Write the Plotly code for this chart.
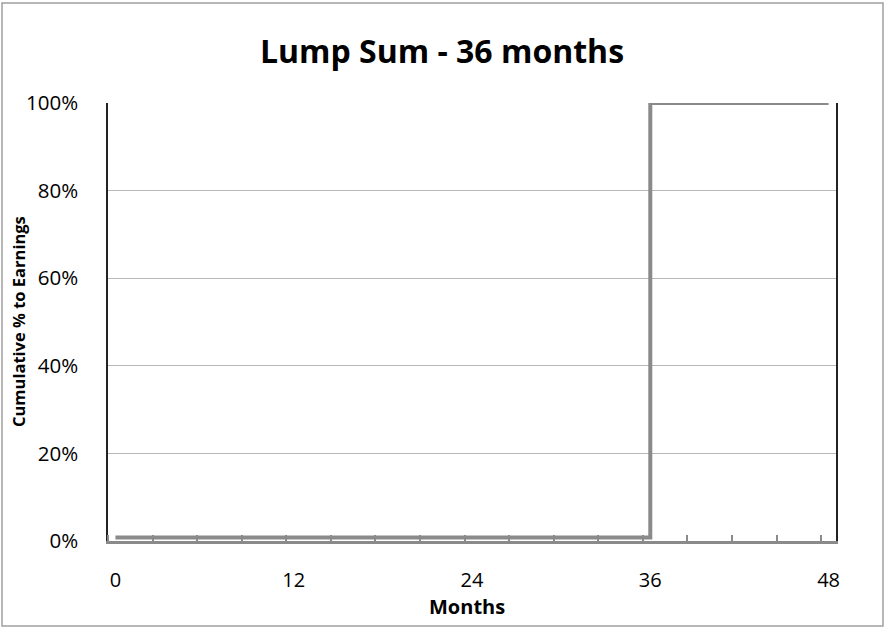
import plotly.graph_objects as go

# Monthly cumulative share of earnings for a lump-sum payout at month 36
months = list(range(0, 49))
cumulative_pct = [0.008] * 36 + [1.0] * 13

x_tick_vals = [0, 12, 24, 36, 48]
x_tick_text = ["0", "12", "24", "36", "48"]
y_tick_vals = [0, 0.2, 0.4, 0.6, 0.8, 1.0]
y_tick_text = ["0%", "20%", "40%", "60%", "80%", "100%"]

W, H = 885, 629
L, R, T, B = 108, 49, 103, 88
pw, ph = W - L - R, H - T - B

font_family = "'Open Sans', Lato, sans-serif"

fig = go.Figure()
fig.add_trace(go.Scatter(
    x=months, y=cumulative_pct, mode="lines", line_shape="hv",
    line=dict(color="#8a8a8a", width=4), showlegend=False, hoverinfo="skip",
))

fig.update_layout(
    width=W, height=H,
    margin=dict(l=L, r=R, t=T, b=B, autoexpand=False),
    paper_bgcolor="white", plot_bgcolor="white",
    title=dict(text="<b>Lump Sum - 36 months</b>", x=(246 + 638) / 2 / W, xanchor="center",
               y=1 - 52 / H, yanchor="middle",
               font=dict(family=font_family, size=32, color="black")),
    font=dict(family=font_family, color="black"),
    xaxis=dict(
        # category-style axis: each month occupies one slot, labels at slot centres
        range=[-0.5, 48.5], tickmode="array", tickvals=x_tick_vals, ticktext=x_tick_text,
        ticks="", automargin=False,
        minor=dict(dtick=3, tick0=-0.5, ticks="inside", ticklen=6, tickcolor="#8a8a8a", tickwidth=2),
        showgrid=False, zeroline=False,
        showline=True, linecolor="#8a8a8a", linewidth=3, mirror=False,
        tickfont=dict(size=20), ticklabelstandoff=19,
    ),
    yaxis=dict(
        range=[0, 1.0], tickmode="array", tickvals=y_tick_vals, ticktext=y_tick_text,
        ticks="", automargin=False,
        showgrid=True, gridcolor="#b8b8b8", gridwidth=1, zeroline=False,
        showline=True, linecolor="#222222", linewidth=1.5, mirror=True,
        tickfont=dict(size=20.5), ticklabelstandoff=24,
    ),
    annotations=[
        dict(text="<b>Months</b>", xref="paper", yref="paper",
             x=(467 - L) / pw, y=(H - B - 606) / ph, xanchor="center", yanchor="middle",
             showarrow=False, font=dict(size=20)),
        dict(text="<b>Cumulative % to Earnings</b>", xref="paper", yref="paper",
             x=(18 - L) / pw, y=0.5, xanchor="center", yanchor="middle", textangle=-90,
             showarrow=False, font=dict(size=16.5)),
    ],
    shapes=[dict(
        type="rect", xref="paper", yref="paper",
        x0=(2 - L) / pw, x1=(883 - L) / pw,
        y0=(H - B - 626) / ph, y1=(H - B - 3) / ph,
        line=dict(color="#a0a0a0", width=1.5), fillcolor="rgba(0,0,0,0)", layer="below",
    )],
)

fig.write_html("out.html")
